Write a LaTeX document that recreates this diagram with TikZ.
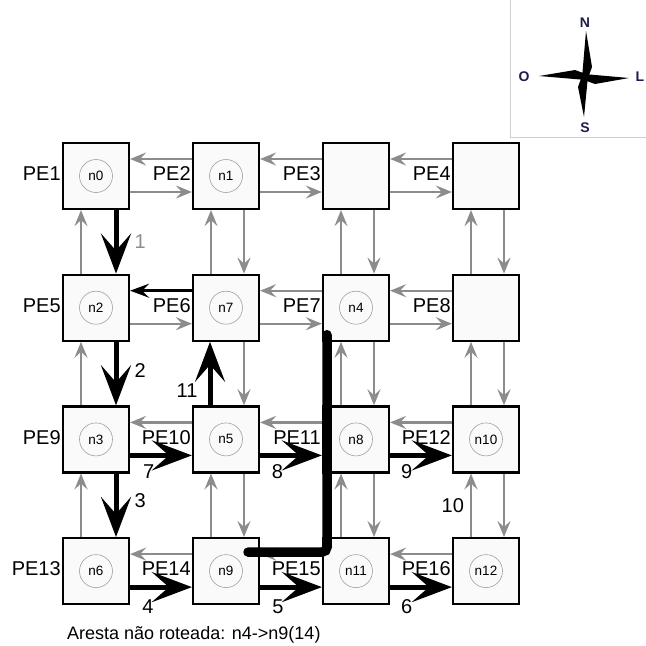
\documentclass[tikz,border=0pt]{standalone}
\usepackage{fontspec}
\setmainfont{Liberation Sans}
\usetikzlibrary{arrows.meta,positioning,calc}
\definecolor{nocLink}{HTML}{8C8C8C}
\definecolor{nocCore}{HTML}{A0A0A0}
\definecolor{nocCompass}{HTML}{1C1C4E}
\definecolor{nocFrame}{HTML}{CFCFCF}
\tikzset{
  pebox/.style={draw=black, line width=2.2pt, fill=black!2, minimum size=66pt, inner sep=0pt},
  core/.style={circle, draw=nocCore, line width=0.6pt, minimum size=33pt, inner sep=0pt,
    font=\fontsize{13.5}{15}\selectfont},
  pelabel/.style={font=\fontsize{20}{24}\selectfont, inner sep=1pt},
  steplabel/.style={font=\fontsize{20}{24}\selectfont, inner sep=1pt, text=black},
  link/.style={-{Stealth[length=16pt, width=13pt, inset=6pt]}, line width=2.2pt, nocLink},
  hop/.style={-{Stealth[length=40pt, width=30pt, inset=17pt]}, line width=5pt, black},
  back/.style={-{Stealth[length=19pt, width=14pt, inset=7pt]}, line width=3pt, black},
  unrouted/.style={line width=9.5pt, line cap=round, rounded corners=5pt, black},
  compass/.style={font=\fontsize{14}{16}\selectfont\bfseries, text=nocCompass, inner sep=0pt}
}
\begin{document}
\begin{tikzpicture}[x=1pt, y=-1pt]
  \useasboundingbox (0,0) rectangle (646,646);

  % mesh of PEs
  \foreach \r in {0,...,3}
    \foreach \c in {1,...,4}{
      \pgfmathtruncatemacro\k{4*\r+\c}
      \node[pebox] (pe\k) at ({96+130*(\c-1)}, {176+131.7*\r}) {};
      \node[pelabel, anchor=east] (lbl\k) at ([yshift=2pt]pe\k.west) {PE\k};
    }

  % tasks mapped on PEs
  \foreach \k/\n in {1/0,2/1,5/2,6/7,7/4,9/3,10/5,11/8,12/10,13/6,14/9,15/11,16/12}
    \node[core] (n\n) at (pe\k) {n\n};

  % links west / east
  \foreach \a/\b in {1/2,2/3,3/4,6/7,7/8,9/10,10/11,11/12,13/14,14/15,15/16}
    \draw[link] ([yshift=17pt]pe\b.west) -- ([yshift=17pt]pe\a.east);
  \foreach \a/\b in {1/2,2/3,3/4,5/6,6/7,7/8}
    \draw[link] ([yshift=-16pt]pe\a.east) -- ([yshift=-16pt]pe\b.west);

  % links north / south
  \foreach \a/\b in {1/5,2/6,3/7,4/8,5/9,7/11,8/12,9/13,10/14,11/15}
    \draw[link] ([xshift=-15pt]pe\b.north) -- ([xshift=-15pt]pe\a.south);
  \foreach \a/\b in {2/6,3/7,4/8,6/10,7/11,8/12,10/14,11/15,12/16}
    \draw[link] ([xshift=18pt]pe\a.south) -- ([xshift=18pt]pe\b.north);
  \draw[link] ([xshift=-15pt]pe16.north) -- node[steplabel, left=5pt] (s10) {10} ([xshift=-15pt]pe12.south);

  % routed path
  \draw[back] ([yshift=17pt]pe6.west) -- ([yshift=17pt]pe5.east);
  \draw[hop] ([xshift=20pt]pe1.south) -- node[steplabel, pos=0.5, right=15pt, text=nocLink] (s1) {1} ([xshift=20pt]pe5.north);
  \draw[hop] ([xshift=20pt]pe5.south) -- node[steplabel, pos=0.45, right=15pt] (s2) {2} ([xshift=20pt]pe9.north);
  \draw[hop] ([xshift=20pt]pe9.south) -- node[steplabel, pos=0.42, right=15pt] (s3) {3} ([xshift=20pt]pe13.north);
  \draw[hop] ([yshift=-16pt]pe13.east) -- node[steplabel, pos=0.29, below=9pt] (s4) {4} ([yshift=-16pt]pe14.west);
  \draw[hop] ([yshift=-16pt]pe14.east) -- node[steplabel, pos=0.29, below=9pt] (s5) {5} ([yshift=-16pt]pe15.west);
  \draw[hop] ([yshift=-16pt]pe15.east) -- node[steplabel, pos=0.27, below=9pt] (s6) {6} ([yshift=-16pt]pe16.west);
  \draw[hop] ([yshift=-16pt]pe9.east) -- node[steplabel, pos=0.3, below=6pt] (s7) {7} ([yshift=-16pt]pe10.west);
  \draw[hop] ([yshift=-16pt]pe10.east) -- node[steplabel, pos=0.28, below=6pt] (s8) {8} ([yshift=-16pt]pe11.west);
  \draw[hop] ([yshift=-16pt]pe11.east) -- node[steplabel, pos=0.27, below=6pt] (s9) {9} ([yshift=-16pt]pe12.west);
  \draw[hop] ([xshift=-16pt]pe10.north) -- node[steplabel, pos=0.23, left=9pt] (s11) {11} ([xshift=-16pt]pe6.south);

  % edge that could not be routed
  \draw[unrouted] ($(n9)+(22,-19)$) -| ($(n4)+(-29,27)$);

  % compass
  \draw[nocFrame, line width=1pt] (510,0) -- (510,137) -- (646,137);
  \coordinate (rose) at (585,77);
  \fill ($(rose)+(-3,1)$) -- ($(rose)+(1,-46)$) -- ($(rose)+(7,-10)$) -- ($(rose)+(3,1)$) -- cycle;
  \fill ($(rose)+(-1,-3)$) -- ($(rose)+(44,1)$) -- ($(rose)+(10,7)$) -- ($(rose)+(-1,3)$) -- cycle;
  \fill ($(rose)+(3,-1)$) -- ($(rose)+(-1,40)$) -- ($(rose)+(-7,10)$) -- ($(rose)+(-3,-1)$) -- cycle;
  \fill ($(rose)+(1,3)$) -- ($(rose)+(-46,-1)$) -- ($(rose)+(-10,-7)$) -- ($(rose)+(1,-3)$) -- cycle;
  \node[compass] (cN) at ($(rose)+(0,-54)$) {N};
  \node[compass] (cS) at ($(rose)+(0,51)$) {S};
  \node[compass] (cO) at ($(rose)+(-61,0)$) {O};
  \node[compass] (cL) at ($(rose)+(55,0)$) {L};

  \node[anchor=base west, font=\fontsize{18}{22}\selectfont, inner sep=0pt] (caption) at (67,639)
    {Aresta não roteada: n4->n9(14)};
\end{tikzpicture}
\end{document}
